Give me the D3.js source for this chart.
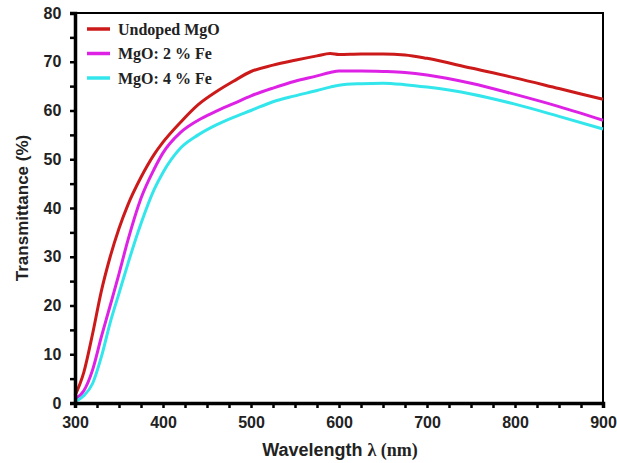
<!DOCTYPE html>
<html>
<head>
<meta charset="utf-8">
<script src="https://cdn.jsdelivr.net/npm/d3@7"></script>
<style>
  body { margin: 0; background: #fff; }
  svg { display: block; }
</style>
</head>
<body>
<div id="chart"></div>
<script>
// data
var wavelengths = [300, 310, 320, 330, 340, 350, 360, 375, 390, 400, 420, 440, 460, 480, 500, 525, 550, 575, 590, 600, 625, 650, 675, 700, 750, 800, 850, 900];
var undoped = [1.5, 6.3, 14.2, 23, 30, 35.8, 40.6, 46.3, 51, 53.5, 57.6, 61.2, 63.8, 66, 68, 69.3, 70.3, 71.2, 71.7, 71.5, 71.6, 71.6, 71.4, 70.7, 68.7, 66.7, 64.5, 62.3];
var fe2 = [0.8, 2.5, 6.8, 13.6, 20, 26.5, 33.3, 42, 48, 51.3, 55.5, 58, 59.8, 61.4, 63, 64.6, 66, 67.1, 67.8, 68.1, 68.1, 68, 67.8, 67.3, 65.6, 63.3, 60.8, 58];
var fe4 = [0.3, 1.5, 4, 9.5, 16.5, 22.5, 28.5, 36.8, 43.8, 47.3, 52.3, 55, 57, 58.6, 60, 61.8, 63, 64.1, 64.8, 65.2, 65.5, 65.6, 65.3, 64.8, 63.4, 61.3, 58.8, 56.2];
var seriesNames = ['Undoped MgO', 'MgO: 2 % Fe', 'MgO: 4 % Fe'];
var seriesColors = ['#cc1a1a', '#dd22e6', '#33e6ec'];
var xTicks = [300, 400, 500, 600, 700, 800, 900];
var yTicks = [0, 10, 20, 30, 40, 50, 60, 70, 80];

var svgWidth = 617;
var svgHeight = 463;

var margin = { top: 13, right: 14, bottom: 60, left: 75 };
var width = 603 - margin.left;
var height = 403 - margin.top;

var svg = d3.select('#chart')
    .append('svg')
    .attr('width', svgWidth)
    .attr('height', svgHeight);

var chartGroup = svg.append('g')
    .attr('transform', `translate(${margin.left}, ${margin.top})`);

var xScale = d3.scaleLinear().domain([300, 900]).range([0, width]);
var yScale = d3.scaleLinear().domain([0, 80]).range([height, 0]);

// frame (top + right thin)
chartGroup.append('path')
    .attr('d', `M0,0H${width}V${height}`)
    .attr('fill', 'none')
    .attr('stroke', '#000')
    .attr('stroke-width', 2);

// curves
var line = d3.line()
    .x(d => xScale(d[0]))
    .y(d => yScale(d[1]))
    .curve(d3.curveMonotoneX);

[undoped, fe2, fe4].forEach(function (vals, i) {
    var pts = wavelengths.map((w, j) => [w, vals[j]]);
    chartGroup.append('path')
        .datum(pts)
        .attr('d', line)
        .attr('fill', 'none')
        .attr('stroke', seriesColors[i])
        .attr('stroke-width', 3);
});

// axes
var bottomAxis = d3.axisBottom(xScale)
    .tickValues(d3.range(300, 901, 25))
    .tickSize(5)
    .tickFormat(d => xTicks.includes(d) ? d : '');
var leftAxis = d3.axisLeft(yScale)
    .tickValues(d3.range(0, 81, 5))
    .tickSize(5)
    .tickFormat(d => yTicks.includes(d) ? d : '');

var xAxis = chartGroup.append('g')
    .attr('transform', `translate(0, ${height})`)
    .call(bottomAxis);
var yAxis = chartGroup.append('g')
    .call(leftAxis);

[xAxis, yAxis].forEach(function (ax) {
    ax.select('.domain').attr('stroke-width', 3.5);
    ax.selectAll('.tick line').attr('stroke-width', 2.5);
    ax.selectAll('.tick text')
        .attr('font-family', 'Liberation Sans, Arial, sans-serif')
        .attr('font-weight', 'bold')
        .attr('font-size', 16)
        .attr('fill', '#222');
});
xAxis.selectAll('.tick text').attr('dy', '1.05em');
yAxis.selectAll('.tick text').attr('dx', '-0.35em');

// axis titles
var xTitle = svg.append('text')
    .attr('x', 340)
    .attr('y', 456)
    .attr('text-anchor', 'middle')
    .attr('fill', '#222')
    .attr('font-weight', 'bold');
xTitle.append('tspan')
    .attr('font-family', 'Liberation Sans, Arial, sans-serif')
    .attr('font-size', 18)
    .text('Wavelength ');
xTitle.append('tspan')
    .attr('font-family', 'Liberation Serif, Times New Roman, serif')
    .attr('font-size', 18)
    .text('λ (nm)');

svg.append('text')
    .attr('transform', 'translate(28, 208) rotate(-90)')
    .attr('text-anchor', 'middle')
    .attr('font-family', 'Liberation Sans, Arial, sans-serif')
    .attr('font-weight', 'bold')
    .attr('font-size', 17)
    .attr('fill', '#222')
    .text('Transmittance (%)');

// legend
var legend = svg.append('g').attr('transform', 'translate(87, 29)');
seriesNames.forEach(function (name, i) {
    var g = legend.append('g').attr('transform', `translate(0, ${i * 24.5})`);
    g.append('line')
        .attr('x1', 0).attr('x2', 23)
        .attr('y1', 0).attr('y2', 0)
        .attr('stroke', seriesColors[i])
        .attr('stroke-width', 3.5);
    g.append('text')
        .attr('x', 31)
        .attr('y', 5.5)
        .attr('font-family', 'Liberation Serif, Times New Roman, serif')
        .attr('font-weight', 'bold')
        .attr('font-size', 16)
        .attr('fill', '#222')
        .text(name);
});
</script>
</body>
</html>
